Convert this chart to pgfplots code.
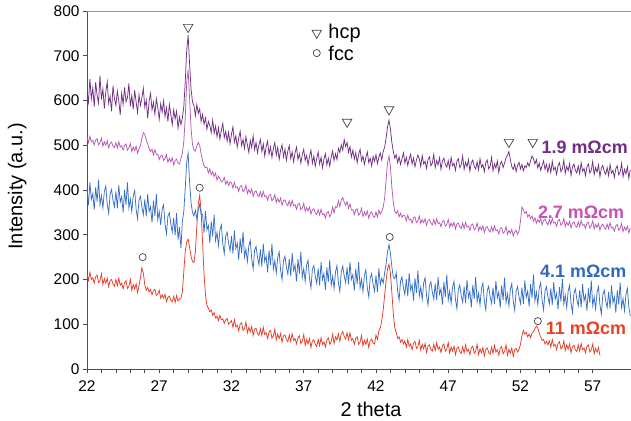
\documentclass[border=0pt]{standalone}
\usepackage{fontspec}
\setmainfont{Liberation Sans}
\usepackage{pgfplots}
\pgfplotsset{compat=1.18}

\definecolor{cP}{RGB}{112,48,132}
\definecolor{cM}{RGB}{182,88,180}
\definecolor{cB}{RGB}{55,110,200}
\definecolor{cR}{RGB}{226,62,40}
\definecolor{lP}{RGB}{115,45,135}
\definecolor{lM}{RGB}{200,82,180}
\definecolor{lB}{RGB}{45,105,190}
\definecolor{lR}{RGB}{232,65,35}
\definecolor{axc}{RGB}{70,80,90}
\definecolor{topc}{RGB}{140,155,172}

\begin{document}
\begin{tikzpicture}
\path[use as bounding box] (-87bp,-52bp) rectangle (544bp,369bp);
\begin{axis}[
    scale only axis,
    width=544bp, height=358bp,
    xmin=22, xmax=59.65,
    ymin=0, ymax=800,
    axis x line*=bottom,
    axis y line*=left,
    axis line style={color=axc, line width=0.7pt},
    xtick={22,27,32,37,42,47,52,57},
    minor x tick num=4,
    ytick={0,100,...,800},
    tick align=outside,
    major tick length=4bp,
    minor tick length=4bp,
    tick style={color=axc, line width=0.6pt},
    /pgf/number format/assume math mode=true,
    ticklabel style={font=\fontsize{15.5}{18}\selectfont},
    xticklabel style={yshift=-4bp},
    xlabel={2 theta},
    ylabel={Intensity (a.u.)},
    xlabel style={font=\fontsize{20}{24}\selectfont, at={(ticklabel cs:0.522)}, anchor=north, yshift=-4bp},
    ylabel style={font=\fontsize{20}{24}\selectfont, at={(rel axis cs:-0.1048,0.51)}, anchor=south},
    clip=true,
]
\draw[topc, line width=0.8pt] (rel axis cs:0,1) -- (rel axis cs:1,1);

% 11 mOhm cm
\addplot[cR, line width=0.75pt] coordinates {
(22.0,213) (22.1,198) (22.2,216) (22.3,200) (22.4,204) (22.5,192) (22.6,206) (22.7,210) (22.8,193) (22.9,197)
(23.0,213) (23.1,189) (23.2,202) (23.3,192) (23.4,203) (23.5,184) (23.6,198) (23.7,200) (23.8,190) (23.9,185)
(24.0,200) (24.1,186) (24.2,203) (24.3,187) (24.4,192) (24.5,179) (24.6,193) (24.7,197) (24.8,180) (24.9,185)
(25.0,200) (25.1,176) (25.2,189) (25.3,179) (25.4,190) (25.5,171) (25.6,186) (25.7,204) (25.8,226) (25.9,214)
(26.0,188) (26.1,176) (26.2,182) (26.3,172) (26.4,178) (26.5,166) (26.6,175) (26.7,178) (26.8,164) (26.9,168)
(27.0,176) (27.1,158) (27.2,166) (27.3,158) (27.4,167) (27.5,150) (27.6,160) (27.7,163) (27.8,154) (27.9,150)
(28.0,162) (28.1,149) (28.2,164) (28.3,152) (28.4,156) (28.5,158) (28.6,172) (28.7,218) (28.8,262) (28.9,284)
(29.0,290) (29.1,272) (29.2,252) (29.3,240) (29.4,238) (29.5,262) (29.6,318) (29.7,368) (29.8,388) (29.9,352)
(30.0,282) (30.1,212) (30.2,166) (30.3,142) (30.4,136) (30.5,128) (30.6,132) (30.7,120) (30.8,126) (30.9,114)
(31.0,118) (31.1,108) (31.2,120) (31.3,110) (31.4,112) (31.5,102) (31.6,110) (31.7,113) (31.8,100) (31.9,104)
(32.0,108) (32.1,93) (32.2,110) (32.3,94) (32.4,98) (32.5,85) (32.6,100) (32.7,103) (32.8,86) (32.9,90)
(33.0,105) (33.1,81) (33.2,93) (33.3,83) (33.4,95) (33.5,75) (33.6,89) (33.7,91) (33.8,80) (33.9,75)
(34.0,90) (34.1,75) (34.2,93) (34.3,77) (34.4,81) (34.5,68) (34.6,83) (34.7,86) (34.8,69) (34.9,74)
(35.0,89) (35.1,65) (35.2,78) (35.3,68) (35.4,79) (35.5,60) (35.6,74) (35.7,76) (35.8,66) (35.9,61)
(36.0,76) (36.1,62) (36.2,79) (36.3,64) (36.4,68) (36.5,56) (36.6,70) (36.7,74) (36.8,57) (36.9,62)
(37.0,77) (37.1,53) (37.2,66) (37.3,56) (37.4,68) (37.5,48) (37.6,63) (37.7,65) (37.8,55) (37.9,50)
(38.0,66) (38.1,52) (38.2,70) (38.3,55) (38.4,61) (38.5,49) (38.6,65) (38.7,70) (38.8,55) (38.9,61)
(39.0,78) (39.1,57) (39.2,72) (39.3,65) (39.4,79) (39.5,62) (39.6,79) (39.7,84) (39.8,73) (39.9,67)
(40.0,81) (40.1,65) (40.2,81) (40.3,64) (40.4,68) (40.5,55) (40.6,69) (40.7,72) (40.8,55) (40.9,60)
(41.0,75) (41.1,52) (41.2,64) (41.3,55) (41.4,67) (41.5,48) (41.6,63) (41.7,67) (41.8,58) (41.9,56)
(42.0,76) (42.1,66) (42.2,85) (42.3,92) (42.4,108) (42.5,132) (42.6,165) (42.7,198) (42.8,224) (42.9,234)
(43.0,214) (43.1,170) (43.2,124) (43.3,92) (43.4,82) (43.5,68) (43.6,72) (43.7,60) (43.8,66) (43.9,56)
(44.0,63) (44.1,49) (44.2,66) (44.3,51) (44.4,56) (44.5,43) (44.6,58) (44.7,62) (44.8,46) (44.9,50)
(45.0,64) (45.1,42) (45.2,55) (45.3,45) (45.4,57) (45.5,37) (45.6,51) (45.7,54) (45.8,44) (45.9,40)
(46.0,55) (46.1,41) (46.2,59) (46.3,44) (46.4,49) (46.5,37) (46.6,52) (46.7,56) (46.8,40) (46.9,45)
(47.0,59) (47.1,36) (47.2,49) (47.3,40) (47.4,51) (47.5,32) (47.6,46) (47.7,49) (47.8,39) (47.9,35)
(48.0,50) (48.1,36) (48.2,54) (48.3,39) (48.4,44) (48.5,32) (48.6,47) (48.7,51) (48.8,35) (48.9,40)
(49.0,55) (49.1,32) (49.2,45) (49.3,36) (49.4,48) (49.5,29) (49.6,44) (49.7,47) (49.8,37) (49.9,33)
(50.0,49) (50.1,35) (50.2,53) (50.3,38) (50.4,43) (50.5,31) (50.6,46) (50.7,50) (50.8,34) (50.9,39)
(51.0,54) (51.1,31) (51.2,44) (51.3,35) (51.4,47) (51.5,28) (51.6,43) (51.7,46) (51.8,38) (51.9,44)
(52.0,55) (52.1,74) (52.2,86) (52.3,78) (52.4,82) (52.5,72) (52.6,78) (52.7,70) (52.8,80) (52.9,84)
(53.0,90) (53.1,96) (53.2,92) (53.3,80) (53.4,72) (53.5,64) (53.6,66) (53.7,56) (53.8,62) (53.9,54)
(54.0,63) (54.1,49) (54.2,66) (54.3,51) (54.4,55) (54.5,43) (54.6,57) (54.7,61) (54.8,45) (54.9,49)
(55.0,63) (55.1,41) (55.2,54) (55.3,44) (55.4,56) (55.5,36) (55.6,50) (55.7,53) (55.8,43) (55.9,39)
(56.0,54) (56.1,40) (56.2,57) (56.3,43) (56.4,47) (56.5,36) (56.6,50) (56.7,54) (56.8,38) (56.9,43)
(57.0,56) (57.1,34) (57.2,46) (57.3,37) (57.4,48) (57.5,30)
};

% 4.1 mOhm cm
\addplot[cB, line width=0.75pt] coordinates {
(22.0,403) (22.1,366) (22.2,417) (22.3,379) (22.4,392) (22.5,356) (22.6,406) (22.7,374) (22.8,423) (22.9,367)
(23.0,387) (23.1,360) (23.2,396) (23.3,409) (23.4,369) (23.5,348) (23.6,391) (23.7,401) (23.8,377) (23.9,362)
(24.0,397) (24.1,359) (24.2,411) (24.3,373) (24.4,385) (24.5,350) (24.6,400) (24.7,367) (24.8,417) (24.9,360)
(25.0,380) (25.1,352) (25.2,387) (25.3,399) (25.4,357) (25.5,336) (25.6,378) (25.7,386) (25.8,362) (25.9,345)
(26.0,379) (26.1,341) (26.2,391) (26.3,352) (26.4,363) (26.5,327) (26.6,376) (26.7,342) (26.8,391) (26.9,333)
(27.0,352) (27.1,322) (27.2,357) (27.3,367) (27.4,324) (27.5,302) (27.6,342) (27.7,349) (27.8,324) (27.9,306)
(28.0,338) (28.1,299) (28.2,348) (28.3,289) (28.4,317) (28.5,270) (28.6,330) (28.7,352) (28.8,405) (28.9,462)
(29.0,482) (29.1,418) (29.2,372) (29.3,350) (29.4,342) (29.5,355) (29.6,336) (29.7,356) (29.8,368) (29.9,345)
(30.0,345) (30.1,304) (30.2,353) (30.3,311) (30.4,321) (30.5,282) (30.6,330) (30.7,296) (30.8,345) (30.9,287)
(31.0,305) (31.1,276) (31.2,311) (31.3,322) (31.4,280) (31.5,258) (31.6,298) (31.7,306) (31.8,281) (31.9,264)
(32.0,297) (32.1,258) (32.2,309) (32.3,269) (32.4,281) (32.5,244) (32.6,292) (32.7,259) (32.8,307) (32.9,250)
(33.0,268) (33.1,240) (33.2,275) (33.3,287) (33.4,245) (33.5,224) (33.6,266) (33.7,274) (33.8,250) (33.9,233)
(34.0,267) (34.1,229) (34.2,280) (34.3,240) (34.4,252) (34.5,216) (34.6,265) (34.7,232) (34.8,280) (34.9,223)
(35.0,242) (35.1,214) (35.2,250) (35.3,262) (35.4,221) (35.5,200) (35.6,243) (35.7,252) (35.8,228) (35.9,212)
(36.0,246) (36.1,208) (36.2,259) (36.3,220) (36.4,232) (36.5,196) (36.6,246) (36.7,213) (36.8,262) (36.9,205)
(37.0,224) (37.1,196) (37.2,232) (37.3,243) (37.4,202) (37.5,181) (37.6,223) (37.7,231) (37.8,207) (37.9,191)
(38.0,225) (38.1,187) (38.2,239) (38.3,200) (38.4,213) (38.5,177) (38.6,227) (38.7,194) (38.8,244) (38.9,187)
(39.0,207) (39.1,180) (39.2,217) (39.3,231) (39.4,192) (39.5,173) (39.6,218) (39.7,230) (39.8,208) (39.9,193)
(40.0,227) (40.1,189) (40.2,239) (40.3,200) (40.4,211) (40.5,175) (40.6,224) (40.7,190) (40.8,239) (40.9,181)
(41.0,200) (41.1,173) (41.2,209) (41.3,222) (41.4,181) (41.5,161) (41.6,203) (41.7,213) (41.8,189) (41.9,174)
(42.0,209) (42.1,172) (42.2,225) (42.3,188) (42.4,203) (42.5,192) (42.6,215) (42.7,235) (42.8,262) (42.9,278)
(43.0,258) (43.1,228) (43.2,205) (43.3,202) (43.4,215) (43.5,174) (43.6,154) (43.7,196) (43.8,206) (43.9,182)
(44.0,166) (44.1,201) (44.2,163) (44.3,215) (44.4,176) (44.5,189) (44.6,153) (44.7,203) (44.8,170) (44.9,220)
(45.0,163) (45.1,183) (45.2,155) (45.3,192) (45.4,204) (45.5,164) (45.6,143) (45.7,186) (45.8,195) (45.9,172)
(46.0,156) (46.1,191) (46.2,154) (46.3,205) (46.4,167) (46.5,179) (46.6,144) (46.7,194) (46.8,161) (46.9,211)
(47.0,154) (47.1,174) (47.2,147) (47.3,183) (47.4,196) (47.5,156) (47.6,135) (47.7,178) (47.8,188) (47.9,164)
(48.0,149) (48.1,184) (48.2,147) (48.3,199) (48.4,160) (48.5,173) (48.6,138) (48.7,188) (48.8,156) (48.9,206)
(49.0,150) (49.1,170) (49.2,143) (49.3,180) (49.4,192) (49.5,152) (49.6,132) (49.7,175) (49.8,185) (49.9,162)
(50.0,147) (50.1,182) (50.2,145) (50.3,197) (50.4,159) (50.5,172) (50.6,137) (50.7,187) (50.8,154) (50.9,204)
(51.0,148) (51.1,168) (51.2,141) (51.3,178) (51.4,191) (51.5,151) (51.6,131) (51.7,174) (51.8,184) (51.9,161)
(52.0,146) (52.1,182) (52.2,145) (52.3,198) (52.4,160) (52.5,174) (52.6,140) (52.7,190) (52.8,159) (52.9,211)
(53.0,152) (53.1,172) (53.2,144) (53.3,181) (53.4,193) (53.5,153) (53.6,132) (53.7,175) (53.8,184) (53.9,161)
(54.0,145) (54.1,180) (54.2,143) (54.3,194) (54.4,156) (54.5,169) (54.6,133) (54.7,183) (54.8,151) (54.9,201)
(55.0,145) (55.1,165) (55.2,137) (55.3,174) (55.4,187) (55.5,147) (55.6,126) (55.7,169) (55.8,179) (55.9,156)
(56.0,141) (56.1,176) (56.2,138) (56.3,190) (56.4,152) (56.5,165) (56.6,130) (56.7,180) (56.8,148) (56.9,198)
(57.0,142) (57.1,161) (57.2,134) (57.3,171) (57.4,184) (57.5,143) (57.6,123) (57.7,166) (57.8,176) (57.9,152)
(58.0,137) (58.1,172) (58.2,135) (58.3,187) (58.4,148) (58.5,161) (58.6,126) (58.7,176) (58.8,144) (58.9,193)
(59.0,137) (59.1,157) (59.2,130) (59.3,167) (59.4,180) (59.5,139) (59.6,119)
};

% 2.7 mOhm cm
\addplot[cM, line width=0.75pt] coordinates {
(22.0,518) (22.1,506) (22.2,520) (22.3,508) (22.4,511) (22.5,501) (22.6,512) (22.7,515) (22.8,501) (22.9,506)
(23.0,516) (23.1,498) (23.2,508) (23.3,500) (23.4,510) (23.5,494) (23.6,504) (23.7,507) (23.8,498) (23.9,495)
(24.0,506) (24.1,494) (24.2,508) (24.3,496) (24.4,499) (24.5,489) (24.6,500) (24.7,503) (24.8,489) (24.9,494)
(25.0,504) (25.1,486) (25.2,496) (25.3,488) (25.4,498) (25.5,482) (25.6,492) (25.7,500) (25.8,515) (25.9,528)
(26.0,524) (26.1,512) (26.2,503) (26.3,492) (26.4,486) (26.5,491) (26.6,478) (26.7,490) (26.8,479) (26.9,480)
(27.0,468) (27.1,476) (27.2,478) (27.3,466) (27.4,470) (27.5,479) (27.6,462) (27.7,471) (27.8,463) (27.9,472)
(28.0,456) (28.1,466) (28.2,469) (28.3,460) (28.4,458) (28.5,470) (28.6,482) (28.7,508) (28.8,562) (28.9,640)
(29.0,668) (29.1,606) (29.2,538) (29.3,502) (29.4,490) (29.5,487) (29.6,498) (29.7,506) (29.8,500) (29.9,480)
(30.0,466) (30.1,454) (30.2,450) (30.3,451) (30.4,438) (30.5,447) (30.6,434) (30.7,441) (30.8,430) (30.9,438)
(31.0,422) (31.1,431) (31.2,425) (31.3,418) (31.4,420) (31.5,428) (31.6,413) (31.7,420) (31.8,410) (31.9,418)
(32.0,416) (32.1,404) (32.2,417) (32.3,405) (32.4,407) (32.5,397) (32.6,408) (32.7,410) (32.8,396) (32.9,400)
(33.0,410) (33.1,392) (33.2,401) (33.3,393) (33.4,402) (33.5,386) (33.6,396) (33.7,398) (33.8,389) (33.9,385)
(34.0,396) (34.1,384) (34.2,397) (34.3,385) (34.4,387) (34.5,377) (34.6,388) (34.7,390) (34.8,376) (34.9,380)
(35.0,390) (35.1,372) (35.2,381) (35.3,373) (35.4,382) (35.5,366) (35.6,376) (35.7,378) (35.8,369) (35.9,365)
(36.0,376) (36.1,364) (36.2,377) (36.3,365) (36.4,367) (36.5,357) (36.6,368) (36.7,370) (36.8,356) (36.9,360)
(37.0,370) (37.1,352) (37.2,361) (37.3,353) (37.4,362) (37.5,346) (37.6,356) (37.7,358) (37.8,349) (37.9,345)
(38.0,356) (38.1,344) (38.2,357) (38.3,345) (38.4,347) (38.5,337) (38.6,349) (38.7,352) (38.8,340) (38.9,347)
(39.0,362) (39.1,349) (39.2,363) (39.3,361) (39.4,376) (39.5,363) (39.6,378) (39.7,383) (39.8,373) (39.9,366)
(40.0,374) (40.1,359) (40.2,369) (40.3,355) (40.4,356) (40.5,345) (40.6,356) (40.7,358) (40.8,344) (40.9,348)
(41.0,359) (41.1,341) (41.2,351) (41.3,343) (41.4,353) (41.5,337) (41.6,348) (41.7,351) (41.8,342) (41.9,339)
(42.0,351) (42.1,340) (42.2,355) (42.3,346) (42.4,352) (42.5,362) (42.6,382) (42.7,422) (42.8,462) (42.9,476)
(43.0,452) (43.1,406) (43.2,372) (43.3,352) (43.4,348) (43.5,354) (43.6,340) (43.7,348) (43.8,339) (43.9,344)
(44.0,342) (44.1,331) (44.2,344) (44.3,333) (44.4,335) (44.5,326) (44.6,338) (44.7,340) (44.8,327) (44.9,331)
(45.0,342) (45.1,325) (45.2,334) (45.3,327) (45.4,336) (45.5,321) (45.6,332) (45.7,334) (45.8,326) (45.9,322)
(46.0,334) (46.1,323) (46.2,336) (46.3,325) (46.4,327) (46.5,318) (46.6,330) (46.7,332) (46.8,319) (46.9,323)
(47.0,334) (47.1,317) (47.2,326) (47.3,319) (47.4,328) (47.5,313) (47.6,324) (47.7,326) (47.8,318) (47.9,314)
(48.0,326) (48.1,314) (48.2,328) (48.3,317) (48.4,319) (48.5,310) (48.6,322) (48.7,324) (48.8,311) (48.9,315)
(49.0,326) (49.1,309) (49.2,318) (49.3,311) (49.4,320) (49.5,305) (49.6,316) (49.7,318) (49.8,310) (49.9,306)
(50.0,318) (50.1,307) (50.2,320) (50.3,309) (50.4,311) (50.5,302) (50.6,314) (50.7,316) (50.8,303) (50.9,307)
(51.0,318) (51.1,301) (51.2,310) (51.3,303) (51.4,312) (51.5,297) (51.6,307) (51.7,310) (51.8,301) (51.9,308)
(52.0,330) (52.1,362) (52.2,356) (52.3,348) (52.4,352) (52.5,340) (52.6,345) (52.7,336) (52.8,342) (52.9,330)
(53.0,338) (53.1,326) (53.2,334) (53.3,328) (53.4,336) (53.5,322) (53.6,332) (53.7,335) (53.8,327) (53.9,322)
(54.0,334) (54.1,323) (54.2,337) (54.3,326) (54.4,328) (54.5,319) (54.6,331) (54.7,334) (54.8,321) (54.9,325)
(55.0,336) (55.1,318) (55.2,328) (55.3,321) (55.4,330) (55.5,315) (55.6,326) (55.7,329) (55.8,320) (55.9,317)
(56.0,329) (56.1,318) (56.2,332) (56.3,321) (56.4,323) (56.5,314) (56.6,326) (56.7,328) (56.8,315) (56.9,320)
(57.0,331) (57.1,313) (57.2,323) (57.3,316) (57.4,325) (57.5,310) (57.6,321) (57.7,324) (57.8,315) (57.9,312)
(58.0,324) (58.1,313) (58.2,327) (58.3,315) (58.4,317) (58.5,308) (58.6,320) (58.7,323) (58.8,310) (58.9,314)
(59.0,325) (59.1,307) (59.2,317) (59.3,310) (59.4,319) (59.5,304) (59.6,315)
};

% 1.9 mOhm cm
\addplot[cP, line width=0.75pt] coordinates {
(22.0,618) (22.1,596) (22.2,648) (22.3,604) (22.4,628) (22.5,586) (22.6,641) (22.7,611) (22.8,594) (22.9,656)
(23.0,602) (23.1,626) (23.2,582) (23.3,619) (23.4,642) (23.5,594) (23.6,609) (23.7,576) (23.8,633) (23.9,604)
(24.0,589) (24.1,621) (24.2,599) (24.3,568) (24.4,616) (24.5,592) (24.6,629) (24.7,597) (24.8,606) (24.9,638)
(25.0,587) (25.1,611) (25.2,580) (25.3,623) (25.4,597) (25.5,573) (25.6,613) (25.7,589) (25.8,606) (25.9,627)
(26.0,585) (26.1,601) (26.2,560) (26.3,599) (26.4,616) (26.5,579) (26.6,596) (26.7,569) (26.8,604) (26.9,584)
(27.0,558) (27.1,593) (27.2,574) (27.3,599) (27.4,564) (27.5,584) (27.6,553) (27.7,591) (27.8,569) (27.9,546)
(28.0,579) (28.1,559) (28.2,576) (28.3,538) (28.4,563) (28.5,546) (28.6,561) (28.7,586) (28.8,642) (28.9,712)
(29.0,746) (29.1,682) (29.2,626) (29.3,597) (29.4,589) (29.5,566) (29.6,591) (29.7,571) (29.8,581) (29.9,553)
(30.0,569) (30.1,547) (30.2,561) (30.3,536) (30.4,553) (30.5,544) (30.6,528) (30.7,556) (30.8,527) (30.9,543)
(31.0,519) (31.1,539) (31.2,514) (31.3,533) (31.4,549) (31.5,517) (31.6,531) (31.7,509) (31.8,529) (31.9,503)
(32.0,525) (32.1,541) (32.2,507) (32.3,521) (32.4,496) (32.5,516) (32.6,531) (32.7,499) (32.8,513) (32.9,493)
(33.0,519) (33.1,501) (33.2,484) (33.3,511) (33.4,495) (33.5,521) (33.6,490) (33.7,506) (33.8,483) (33.9,501)
(34.0,513) (34.1,486) (34.2,503) (34.3,476) (34.4,497) (34.5,509) (34.6,480) (34.7,496) (34.8,473) (34.9,493)
(35.0,506) (35.1,478) (35.2,495) (35.3,468) (35.4,489) (35.5,501) (35.6,474) (35.7,491) (35.8,466) (35.9,487)
(36.0,499) (36.1,470) (36.2,485) (36.3,463) (36.4,483) (36.5,496) (36.6,468) (36.7,481) (36.8,460) (36.9,479)
(37.0,491) (37.1,466) (37.2,477) (37.3,456) (37.4,475) (37.5,489) (37.6,460) (37.7,476) (37.8,453) (37.9,471)
(38.0,485) (38.1,458) (38.2,473) (38.3,450) (38.4,469) (38.5,481) (38.6,456) (38.7,471) (38.8,453) (38.9,473)
(39.0,487) (39.1,466) (39.2,481) (39.3,468) (39.4,493) (39.5,484) (39.6,501) (39.7,489) (39.8,513) (39.9,497)
(40.0,506) (40.1,484) (40.2,497) (40.3,474) (40.4,489) (40.5,469) (40.6,483) (40.7,461) (40.8,479) (40.9,491)
(41.0,465) (41.1,476) (41.2,457) (41.3,473) (41.4,485) (41.5,461) (41.6,471) (41.7,454) (41.8,475) (41.9,464)
(42.0,479) (42.1,459) (42.2,473) (42.3,483) (42.4,467) (42.5,486) (42.6,496) (42.7,516) (42.8,541) (42.9,556)
(43.0,536) (43.1,506) (43.2,486) (43.3,471) (43.4,479) (43.5,461) (43.6,474) (43.7,457) (43.8,470) (43.9,483)
(44.0,460) (44.1,473) (44.2,455) (44.3,469) (44.4,480) (44.5,458) (44.6,471) (44.7,452) (44.8,467) (44.9,478)
(45.0,470) (45.1,452) (45.2,477) (45.3,458) (45.4,464) (45.5,448) (45.6,468) (45.7,474) (45.8,454) (45.9,460)
(46.0,480) (46.1,450) (46.2,466) (46.3,456) (46.4,472) (46.5,446) (46.6,465) (46.7,471) (46.8,457) (46.9,451)
(47.0,466) (47.1,448) (47.2,473) (47.3,454) (47.4,460) (47.5,444) (47.6,464) (47.7,470) (47.8,450) (47.9,456)
(48.0,476) (48.1,446) (48.2,462) (48.3,452) (48.4,468) (48.5,442) (48.6,461) (48.7,467) (48.8,453) (48.9,447)
(49.0,463) (49.1,445) (49.2,470) (49.3,451) (49.4,457) (49.5,441) (49.6,461) (49.7,467) (49.8,447) (49.9,453)
(50.0,473) (50.1,443) (50.2,459) (50.3,449) (50.4,465) (50.5,439) (50.6,458) (50.7,464) (50.8,450) (50.9,460)
(51.0,472) (51.1,478) (51.2,486) (51.3,468) (51.4,452) (51.5,446) (51.6,458) (51.7,441) (51.8,455) (51.9,462)
(52.0,447) (52.1,457) (52.2,443) (52.3,454) (52.4,450) (52.5,461) (52.6,453) (52.7,466) (52.8,476) (52.9,470)
(53.0,458) (53.1,468) (53.2,449) (53.3,460) (53.4,444) (53.5,455) (53.6,465) (53.7,446) (53.8,457) (53.9,440)
(54.0,457) (54.1,439) (54.2,464) (54.3,445) (54.4,451) (54.5,435) (54.6,455) (54.7,461) (54.8,441) (54.9,447)
(55.0,467) (55.1,437) (55.2,453) (55.3,443) (55.4,459) (55.5,433) (55.6,452) (55.7,458) (55.8,444) (55.9,438)
(56.0,454) (56.1,436) (56.2,461) (56.3,442) (56.4,448) (56.5,432) (56.6,452) (56.7,458) (56.8,438) (56.9,444)
(57.0,464) (57.1,434) (57.2,450) (57.3,440) (57.4,456) (57.5,430) (57.6,449) (57.7,455) (57.8,441) (57.9,435)
(58.0,450) (58.1,432) (58.2,457) (58.3,438) (58.4,444) (58.5,428) (58.6,448) (58.7,454) (58.8,434) (58.9,440)
(59.0,460) (59.1,430) (59.2,446) (59.3,436) (59.4,452) (59.5,426) (59.6,445)
};

% hcp markers
\addplot[only marks, mark=triangle, mark size=5.5pt, mark options={rotate=180, draw=black!75, fill=white, line width=0.7pt}]
coordinates {(29.0,764) (40.0,552) (42.9,580) (51.2,507) (52.85,507) (37.9,751)};
% fcc markers
\addplot[only marks, mark=o, mark size=3.6pt, mark options={draw=black!75, fill=white, line width=0.7pt}]
coordinates {(25.85,250) (29.8,405) (42.95,295) (53.2,107) (37.9,706)};

\node[anchor=west, font=\fontsize{20}{24}\selectfont, inner sep=0pt] at (axis cs:38.7,749) {hcp};
\node[anchor=west, font=\fontsize{20}{24}\selectfont, inner sep=0pt] at (axis cs:38.7,706) {fcc};

\node[anchor=west, text=lP, font=\bfseries\fontsize{18}{22}\selectfont, inner sep=0pt] at (axis cs:53.45,496) {1.9 mΩcm};
\node[anchor=west, text=lM, font=\bfseries\fontsize{18}{22}\selectfont, inner sep=0pt] at (axis cs:53.2,351) {2.7 mΩcm};
\node[anchor=west, text=lB, font=\bfseries\fontsize{18}{22}\selectfont, inner sep=0pt] at (axis cs:53.35,219) {4.1 mΩcm};
\node[anchor=west, text=lR, font=\bfseries\fontsize{18}{22}\selectfont, inner sep=0pt] at (axis cs:53.75,92) {11 mΩcm};
\end{axis}
\end{tikzpicture}
\end{document}
